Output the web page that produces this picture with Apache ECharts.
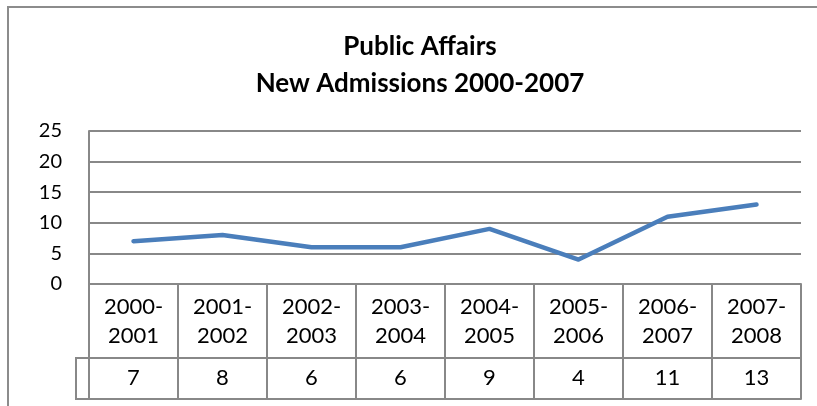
<!DOCTYPE html>
<html>
<head>
<meta charset="utf-8">
<script src="https://cdn.jsdelivr.net/npm/echarts@6/dist/echarts.min.js"></script>
<style>
html,body{margin:0;padding:0;background:#fff;}
#chart{width:817px;height:406px;}
</style>
</head>
<body>
<div id="chart"></div>
<script>
// ---- data ----
var titleLines = ['Public Affairs', 'New Admissions 2000-2007'];
var categories = ['2000-2001', '2001-2002', '2002-2003', '2003-2004', '2004-2005', '2005-2006', '2006-2007', '2007-2008'];
var admissions = [7, 8, 6, 6, 9, 4, 11, 13];
var yTicks = [0, 5, 10, 15, 20, 25];

// ---- layout ----
var FONT = 'Lato, "Liberation Sans", sans-serif';
var GRAY = '#888888';
var plotLeft = 89, plotRight = 16, plotTop = 131, plotBottomY = 284;
var catRowH = 74, valRowTop = 358, valRowH = 41, stubW = 13;

var chart = echarts.init(document.getElementById('chart'), null, {renderer: 'canvas'});

var option = {
  backgroundColor: '#ffffff',
  animation: false,
  title: {
    text: titleLines.join('\n'),
    left: 420,
    top: 28,
    padding: 0,
    textAlign: 'center',
    textStyle: {fontFamily: FONT, fontWeight: 'bold', fontSize: 26, lineHeight: 37, color: '#000'}
  },
  grid: [
    {left: plotLeft, right: plotRight, top: plotTop, height: plotBottomY - plotTop},
    {left: plotLeft, right: plotRight, top: valRowTop, height: valRowH}
  ],
  xAxis: [
    {
      gridIndex: 0, type: 'category', data: categories, boundaryGap: true, position: 'bottom',
      axisLine: {show: true, lineStyle: {color: GRAY, width: 2}},
      axisTick: {show: true, interval: 0, length: catRowH, lineStyle: {color: GRAY, width: 2}},
      axisLabel: {
        interval: 0, margin: 8, fontFamily: FONT, fontSize: 22, lineHeight: 29, color: '#000',
        formatter: function (v) { var p = v.split('-'); return p[0] + '-\n' + p[1]; }
      },
      splitLine: {show: false}
    },
    {
      gridIndex: 1, type: 'category', data: categories, boundaryGap: true, position: 'bottom',
      axisLine: {show: true, lineStyle: {color: GRAY, width: 2}},
      axisTick: {show: true, interval: 0, inside: true, length: valRowH, lineStyle: {color: GRAY, width: 2}},
      axisLabel: {
        interval: 0, inside: true, margin: 10, fontFamily: FONT, fontSize: 22, lineHeight: 22, color: '#000',
        formatter: function (v, i) { return String(admissions[i]); }
      },
      splitLine: {show: false}
    },
    {
      gridIndex: 1, type: 'category', data: categories, boundaryGap: true, position: 'top',
      axisLine: {show: true, lineStyle: {color: GRAY, width: 2}},
      axisTick: {show: false}, axisLabel: {show: false}, splitLine: {show: false}
    }
  ],
  yAxis: [
    {
      gridIndex: 0, type: 'value', min: yTicks[0], max: yTicks[yTicks.length - 1], interval: yTicks[1] - yTicks[0],
      axisLine: {show: true, lineStyle: {color: GRAY, width: 2}},
      axisTick: {show: false},
      axisLabel: {margin: 27, fontFamily: FONT, fontSize: 20, color: '#000'},
      splitLine: {show: true, lineStyle: {color: GRAY, width: 2}}
    },
    {
      gridIndex: 1, type: 'value', min: 0, max: 1, show: false
    }
  ],
  series: [
    {
      type: 'line', xAxisIndex: 0, yAxisIndex: 0, data: admissions,
      showSymbol: false, symbol: 'none',
      lineStyle: {color: '#4a7ebb', width: 4.5, join: 'round', cap: 'round'},
      itemStyle: {color: '#4a7ebb'}
    }
  ],
  graphic: [
    {
      type: 'rect', silent: true,
      shape: {x: 8, y: 7, width: 1000, height: 1000},
      style: {fill: 'none', stroke: '#8c8c8c', lineWidth: 2}
    },
    {
      type: 'rect', silent: true,
      shape: {x: plotLeft - stubW, y: valRowTop, width: stubW, height: valRowH},
      style: {fill: 'none', stroke: GRAY, lineWidth: 2}
    }
  ]
};
chart.setOption(option);
</script>
</body>
</html>
